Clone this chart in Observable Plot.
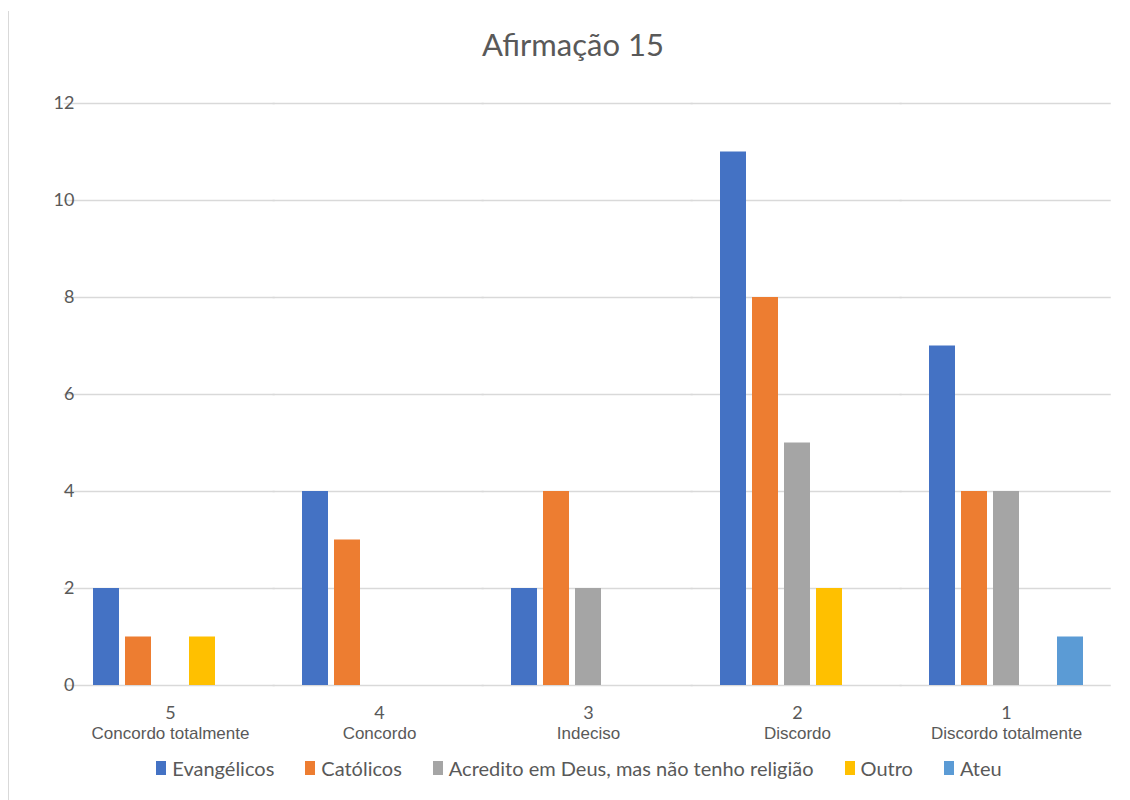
<!DOCTYPE html>
<html>
<head>
<meta charset="utf-8">
<script src="https://cdn.jsdelivr.net/npm/d3@7"></script>
<script src="https://cdn.jsdelivr.net/npm/@observablehq/plot@0.6"></script>
<style>
  html, body { margin: 0; padding: 0; background: #fff; }
  #frame { position: relative; width: 1130px; height: 800px; overflow: hidden; }
  #edge { position: absolute; left: 8px; top: 11px; bottom: 0; width: 0; border-left: 1.5px solid #d9d9d9; }
  #title { position: absolute; left: 0; width: 1146px; top: 24px; text-align: center;
           font-family: Lato, "Open Sans", sans-serif; font-size: 31px; color: #595959; line-height: 40px; }
  #chart { position: absolute; left: 0; top: 80px; }
  #legend { position: absolute; left: 0; width: 1158px; top: 754px; display: flex; justify-content: center;
            gap: 31px; font-family: Lato, "Open Sans", sans-serif; font-size: 20px; color: #595959; line-height: 28px; }
  .item { display: flex; align-items: center; gap: 6px; }
  .sw { width: 10px; height: 14px; display: inline-block; }
</style>
</head>
<body>
<div id="frame">
  <div id="edge"></div>
  <div id="title">Afirmação 15</div>
  <div id="chart"></div>
  <div id="legend"></div>
</div>
<script>
// Answer scale (5 = strongly agree ... 1 = strongly disagree)
const categories = ["5", "4", "3", "2", "1"];
const categoryNames = ["Concordo totalmente", "Concordo", "Indeciso", "Discordo", "Discordo totalmente"];

// Respondent groups
const groups = ["Evangélicos", "Católicos", "Acredito em Deus, mas não tenho religião", "Outro", "Ateu"];
const groupColors = ["#4472c4", "#ed7d31", "#a5a5a5", "#ffc000", "#5b9bd5"];

// Counts per group, in the order of `categories`
const evangelicos = [2, 4, 2, 11, 7];
const catolicos   = [1, 3, 4, 8, 4];
const acredito    = [0, 0, 2, 5, 4];
const outro       = [1, 0, 0, 2, 0];
const ateu        = [0, 0, 0, 0, 1];

const yTicks = [0, 2, 4, 6, 8, 10, 12];

const seriesValues = [evangelicos, catolicos, acredito, outro, ateu];
const rows = [];
categories.forEach((c, i) => {
  groups.forEach((g, j) => rows.push({cat: c, group: g, value: seriesValues[j][i]}));
});
const nameOf = new Map(categories.map((c, i) => [c, categoryNames[i]]));

const width = 1130, marginLeft = 63, marginRight = 17;
const fxInner = 0.265, fxOuter = 0.14;
// half of the gap between neighbouring facets, so gridlines run continuously
const fxStep = (width - marginLeft - marginRight) / (categories.length - fxInner + 2 * fxOuter);
const halfGap = fxStep * fxInner / 2;

const chart = Plot.plot({
  width,
  height: 668,
  marginTop: 23,
  marginBottom: 63,
  marginLeft,
  marginRight,
  style: {background: "transparent"},
  fx: {domain: categories, paddingInner: fxInner, paddingOuter: fxOuter, label: null},
  x: {domain: groups, paddingInner: 0.2, paddingOuter: 0, axis: null},
  y: {domain: [0, 12], axis: null},
  color: {domain: groups, range: groupColors},
  marks: [
    Plot.ruleY(yTicks, {stroke: "#d9d9d9", strokeWidth: 1.4,
                        insetLeft: -fxStep * fxOuter, insetRight: -halfGap}),
    Plot.axisY(yTicks, {tickSize: 0, tickPadding: 19, fill: "#595959", fontSize: 18,
                        fontFamily: "Lato, 'Open Sans', sans-serif", label: null, facetAnchor: "left"}),
    Plot.barY(rows, {fx: "cat", x: "group", y: "value", fill: "group"}),
    Plot.axisFx({anchor: "bottom", tickSize: 0, tickPadding: 21, fill: "#595959", fontSize: 18,
                 fontFamily: "Lato, 'Open Sans', sans-serif", label: null}),
    Plot.axisFx({anchor: "bottom", tickSize: 0, tickPadding: 41, fill: "#595959", fontSize: 17,
                 fontFamily: "'Liberation Sans', Arial, sans-serif", label: null,
                 tickFormat: (d) => nameOf.get(d)})
  ]
});
document.getElementById("chart").appendChild(chart);

// Legend below the plot
const legend = document.getElementById("legend");
groups.forEach((g, i) => {
  const item = document.createElement("div");
  item.className = "item";
  const sw = document.createElement("span");
  sw.className = "sw";
  sw.style.background = groupColors[i];
  const label = document.createElement("span");
  label.textContent = g;
  item.appendChild(sw);
  item.appendChild(label);
  legend.appendChild(item);
});
</script>
</body>
</html>
